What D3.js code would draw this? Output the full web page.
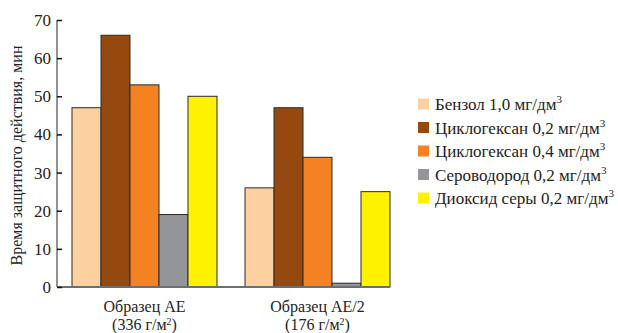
<!DOCTYPE html>
<html><head><meta charset="utf-8">
<script src="https://cdn.jsdelivr.net/npm/d3@7"></script>
<style>body{margin:0;background:#fff}svg{display:block}</style>
</head><body>
<script>
const groups = ["Образец АЕ", "Образец АЕ/2"];
const groupSub = ["(336 г/м", "(176 г/м"];
const seriesNames = ["Бензол 1,0 мг/дм", "Циклогексан 0,2 мг/дм", "Циклогексан 0,4 мг/дм", "Сероводород 0,2 мг/дм", "Диоксид серы 0,2 мг/дм"];
const seriesColors = ["#FDD09F", "#96490F", "#F58220", "#939598", "#FFF200"];
const valuesAE = [47, 66, 53, 19, 50];
const valuesAE2 = [26, 47, 34, 1, 25];
const yTicks = [0, 10, 20, 30, 40, 50, 60, 70];
const yTitle = "Время защитного действия, мин";

const W = 618, H = 333;
const FF = '"Liberation Serif"';
const svg = d3.select("body").append("svg").attr("width", W).attr("height", H);

const y = d3.scaleLinear().domain([0, 70]).range([287, 20]);
const x0 = d3.scaleBand().domain(groups).range([72, 390]).paddingInner(0.162).paddingOuter(0);
const x1 = d3.scaleBand().domain(d3.range(seriesNames.length)).range([0, x0.bandwidth()]);

const data = [valuesAE, valuesAE2];

// bars
groups.forEach((g, gi) => {
  svg.append("g").selectAll("rect").data(data[gi]).join("rect")
    .attr("x", (d, i) => x0(g) + x1(i))
    .attr("y", d => y(d))
    .attr("width", x1.bandwidth())
    .attr("height", d => y(0) - y(d))
    .attr("fill", (d, i) => seriesColors[i])
    .attr("stroke", "#2b2b2b").attr("stroke-width", 1);
});

// x baseline
svg.append("line").attr("x1", 57).attr("x2", x0(groups[1]) + x0.bandwidth())
  .attr("y1", y(0)).attr("y2", y(0)).attr("stroke", "#6d6e71").attr("stroke-width", 2);

// y axis
const yAxis = svg.append("g").attr("transform", "translate(57,0)")
  .call(d3.axisLeft(y).tickValues(yTicks).tickSizeInner(-5).tickSizeOuter(0).tickPadding(6));
yAxis.attr("font-family", null);
yAxis.select(".domain").attr("stroke", "#6d6e71").attr("stroke-width", 1.5).attr("d", `M0,${y(70)}V${y(0)}`);
yAxis.selectAll(".tick line").attr("stroke", "#111").attr("stroke-width", 1.5);
yAxis.selectAll("text").style("font-family", FF).attr("font-size", 17).attr("fill", "#222");

// y title
svg.append("text").attr("transform", `translate(22,${y(35) + 2}) rotate(-90)`)
  .attr("text-anchor", "middle").style("font-family", FF).attr("font-size", 16).attr("fill", "#222")
  .text(yTitle);

// x labels
groups.forEach((g, gi) => {
  const cx = x0(g) + x0.bandwidth() / 2;
  svg.append("text").attr("x", cx).attr("y", 312).attr("text-anchor", "middle")
    .style("font-family", FF).attr("font-size", 16).attr("fill", "#222").text(g);
  const t = svg.append("text").attr("x", cx).attr("y", 330).attr("text-anchor", "middle")
    .style("font-family", FF).attr("font-size", 16).attr("fill", "#222");
  t.append("tspan").text(groupSub[gi]);
  t.append("tspan").attr("dy", -5).attr("font-size", 10).text("2");
  t.append("tspan").attr("dy", 5).text(")");
});

// legend
const leg = svg.append("g").attr("transform", "translate(418,0)");
seriesNames.forEach((n, i) => {
  const cy = 104 + i * 23.5;
  leg.append("rect").attr("x", 0).attr("y", cy - 5.5).attr("width", 11).attr("height", 11).attr("fill", seriesColors[i]);
  const t = leg.append("text").attr("x", 17).attr("y", cy + 6)
    .style("font-family", FF).attr("font-size", 17).attr("fill", "#222");
  t.append("tspan").text(n);
  t.append("tspan").attr("dy", -7).attr("font-size", 11).text("3");
});
</script>
</body></html>
